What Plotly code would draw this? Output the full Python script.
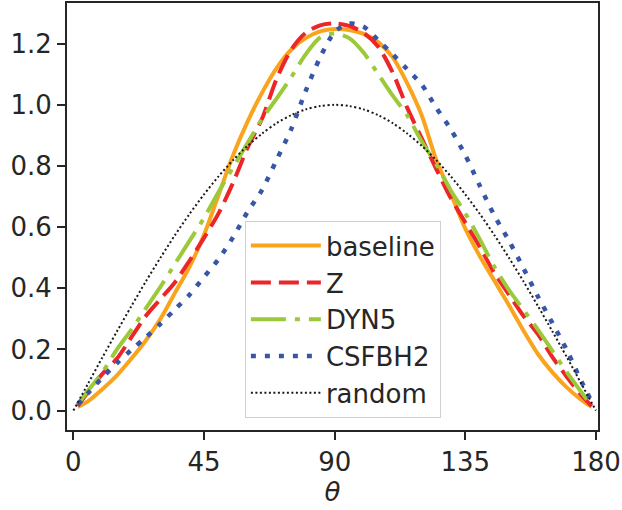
import plotly.graph_objects as go

theta = [1.5, 5, 10, 15, 20, 25, 30, 35, 40, 45, 50, 55, 60, 65, 70, 75, 80, 85, 90,
         95, 100, 105, 110, 115, 120, 125, 130, 135, 140, 145, 150, 155, 160, 165, 170, 175, 178.5]

baseline = [0.012, 0.03, 0.07, 0.115, 0.17, 0.23, 0.30, 0.385, 0.47, 0.575, 0.705, 0.835, 0.945,
            1.04, 1.12, 1.18, 1.218, 1.24, 1.248, 1.245, 1.232, 1.205, 1.155, 1.07, 0.965, 0.82,
            0.71, 0.595, 0.505, 0.425, 0.345, 0.262, 0.185, 0.125, 0.075, 0.035, 0.012]

z_vals = [0.015, 0.06, 0.12, 0.17, 0.24, 0.31, 0.365, 0.42, 0.49, 0.565, 0.645, 0.745, 0.86,
          0.955, 1.085, 1.18, 1.235, 1.26, 1.266, 1.258, 1.235, 1.19, 1.105, 0.99, 0.89, 0.79,
          0.695, 0.615, 0.535, 0.45, 0.38, 0.31, 0.25, 0.175, 0.11, 0.05, 0.015]

dyn5 = [0.02, 0.065, 0.125, 0.2, 0.265, 0.335, 0.405, 0.48, 0.555, 0.63, 0.715, 0.795, 0.875,
        0.955, 1.02, 1.09, 1.165, 1.22, 1.233, 1.218, 1.17, 1.10, 1.03, 0.965, 0.88, 0.805,
        0.72, 0.645, 0.56, 0.47, 0.395, 0.33, 0.265, 0.195, 0.125, 0.06, 0.015]

csfbh2 = [0.02, 0.057, 0.108, 0.155, 0.199, 0.24, 0.284, 0.331, 0.379, 0.437, 0.495, 0.567, 0.65,
          0.722, 0.82, 0.92, 1.045, 1.155, 1.238, 1.266, 1.255, 1.211, 1.165, 1.116, 1.066, 0.99,
          0.92, 0.835, 0.735, 0.638, 0.556, 0.466, 0.373, 0.286, 0.197, 0.095, 0.03]

theta_rand = [0, 5, 10, 15, 20, 25, 30, 35, 40, 45, 50, 55, 60, 65, 70, 75, 80, 85, 90,
              95, 100, 105, 110, 115, 120, 125, 130, 135, 140, 145, 150, 155, 160, 165, 170, 175, 180]
random_vals = [0.0, 0.087, 0.174, 0.259, 0.342, 0.423, 0.5, 0.574, 0.643, 0.707, 0.766, 0.819, 0.866,
               0.906, 0.94, 0.966, 0.985, 0.996, 1.0, 0.996, 0.985, 0.966, 0.94, 0.906, 0.866, 0.819,
               0.766, 0.707, 0.643, 0.574, 0.5, 0.423, 0.342, 0.259, 0.174, 0.087, 0.0]

x_ticks = [0, 45, 90, 135, 180]
y_ticks = [0.0, 0.2, 0.4, 0.6, 0.8, 1.0, 1.2]

FONT = "DejaVu Sans"
TXT = "#262626"

fig = go.Figure()
fig.add_trace(go.Scatter(x=theta, y=baseline, name="baseline", mode="lines",
                         line=dict(color="#FAA41E", width=4, shape="spline", smoothing=0.8)))
fig.add_trace(go.Scatter(x=theta, y=z_vals, name="Z", mode="lines",
                         line=dict(color="#EC2528", width=4, dash="20px,8px", shape="spline", smoothing=0.8)))
fig.add_trace(go.Scatter(x=theta, y=dyn5, name="DYN5", mode="lines",
                         line=dict(color="#9BC93A", width=4, dash="35px,9px,5px,9px", shape="spline", smoothing=0.8)))
fig.add_trace(go.Scatter(x=theta, y=csfbh2, name="CSFBH2", mode="lines",
                         line=dict(color="#3856A6", width=4.5, dash="5px,9px", shape="spline", smoothing=0.8)))
fig.add_trace(go.Scatter(x=theta_rand, y=random_vals, name="random", mode="lines",
                         line=dict(color="#1a1a1a", width=2, dash="2px,2.5px", shape="spline", smoothing=0.8)))

axis_common = dict(showline=True, linecolor=TXT, linewidth=2, mirror=True,
                   ticks="outside", ticklen=8, tickwidth=2, tickcolor=TXT,
                   showgrid=False, zeroline=False,
                   tickfont=dict(family=FONT, size=26, color=TXT))

fig.update_xaxes(range=[-2.2, 180.7], tickvals=x_ticks, ticktext=[str(v) for v in x_ticks],
                 ticklabelstandoff=0,
                 title=dict(text="<i>θ</i>", font=dict(family=FONT, size=26, color=TXT), standoff=2),
                 **axis_common)
fig.update_yaxes(range=[-0.0635, 1.333], tickvals=y_ticks, ticktext=[f"{v:.1f}" for v in y_ticks],
                 ticklabelstandoff=0,
                 **axis_common)

fig.update_layout(
    width=622, height=510,
    margin=dict(l=67, r=24, t=3, b=80, autoexpand=False),
    plot_bgcolor="white", paper_bgcolor="white",
    font=dict(family=FONT, size=26, color=TXT),
    legend=dict(x=0.335, y=0.489, xanchor="left", yanchor="top",
                bgcolor="rgba(255,255,255,0.8)", bordercolor="#d0d0d0", borderwidth=1,
                font=dict(family=FONT, size=26, color=TXT), itemwidth=70),
)

fig.write_html("out.html", config={"displayModeBar": False},
               post_script="document.body.style.margin='0px';document.body.style.overflow='hidden';")
